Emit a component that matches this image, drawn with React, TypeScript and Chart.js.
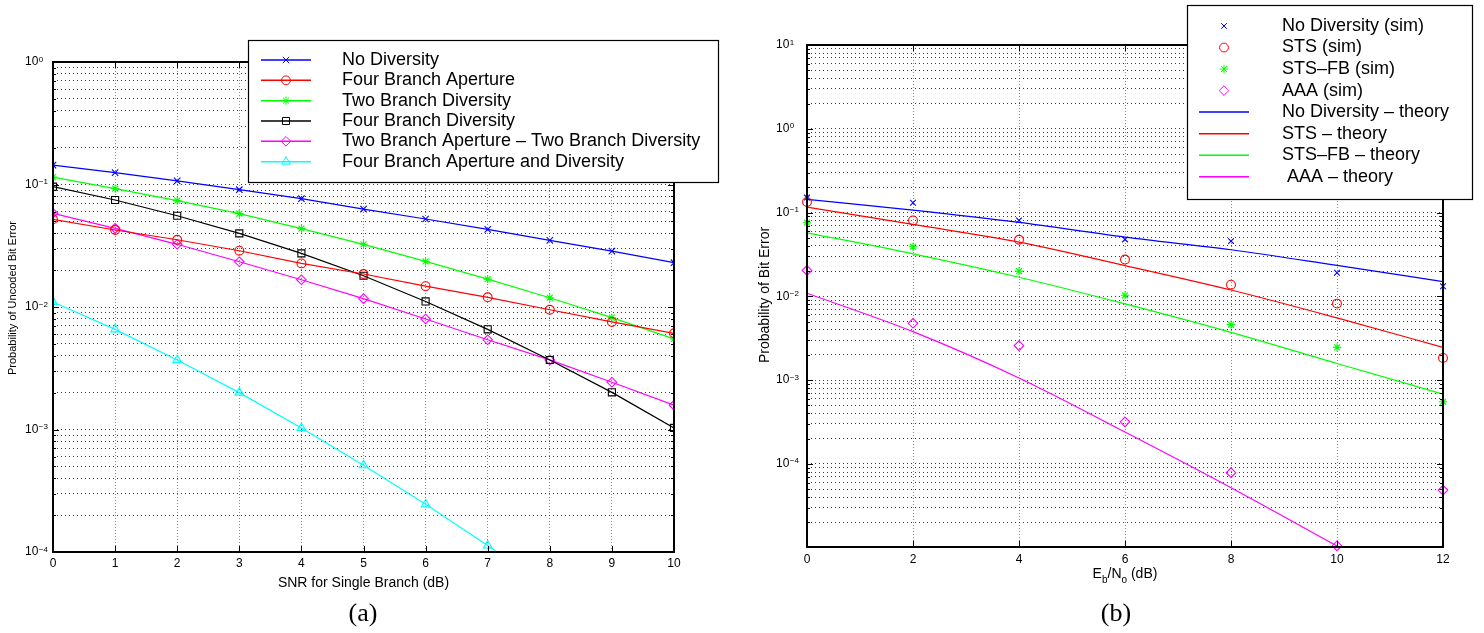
import React, { useEffect, useRef } from 'react';
import { Chart, registerables } from 'chart.js';
import { drawPoint } from 'chart.js/helpers';

Chart.register(...registerables);

// ---------- Figure (a) ----------
const snrA = [0, 1, 2, 3, 4, 5, 6, 7, 8, 9, 10];
const xTicksA = [0, 1, 2, 3, 4, 5, 6, 7, 8, 9, 10];
const yDecadesA = [-4, -3, -2, -1, 0];
const noDiversityA = [0.144, 0.125, 0.107, 0.0907, 0.0766, 0.063, 0.0523, 0.043, 0.035, 0.0286, 0.023];
const fourBranchApertureA = [0.052, 0.0425, 0.0354, 0.0288, 0.0227, 0.0186, 0.0148, 0.012, 0.0095, 0.00755, 0.0061];
const twoBranchDiversityA = [0.115, 0.0925, 0.0738, 0.0578, 0.0436, 0.0325, 0.0236, 0.0169, 0.0119, 0.00818, 0.00548];
const fourBranchDiversityA = [0.096, 0.0747, 0.0556, 0.0399, 0.0274, 0.018, 0.0111, 0.00657, 0.00369, 0.00201, 0.00103];
const twoApTwoDivA = [0.0582, 0.0439, 0.0325, 0.0234, 0.0167, 0.0117, 0.00798, 0.0054, 0.0037, 0.00243, 0.00158];
const fourApAndDivA = [0.011, 0.00657, 0.00369, 0.002, 0.00103, 0.00051, 0.000245, 0.000113, 0.00005];
const labelsA = [
  'No Diversity',
  'Four Branch Aperture',
  'Two Branch Diversity',
  'Four Branch Diversity',
  'Two Branch Aperture \u2013 Two Branch Diversity',
  'Four Branch Aperture and Diversity',
];

// ---------- Figure (b) ----------
const ebnoSimB = [0, 2, 4, 6, 8, 10, 12];
const ebnoTheoryB = [0, 2, 4, 6, 8, 10, 12];
const xTicksB = [0, 2, 4, 6, 8, 10, 12];
const yDecadesB = [-5, -4, -3, -2, -1, 0, 1];
const noDivSimB = [0.151, 0.131, 0.0807, 0.0478, 0.0456, 0.0191, 0.0132];
const stsSimB = [0.134, 0.0807, 0.0474, 0.0275, 0.0138, 0.0082, 0.00184];
const stsFbSimB = [0.0757, 0.0391, 0.02, 0.0103, 0.0046, 0.00246, 0.000552];
const aaaSimB = [0.0204, 0.00477, 0.00258, 0.000318, 0.0000787, 0.0000105, 0.0000487];
const noDivTheoryB = [0.144, 0.107, 0.0764, 0.0509, 0.036, 0.0234, 0.015];
const stsTheoryB = [0.116, 0.0722, 0.0444, 0.0233, 0.0119, 0.00553, 0.00246];
const stsFbTheoryB = [0.0574, 0.0322, 0.0169, 0.00813, 0.00372, 0.00158, 0.000682];
const aaaTheoryB = [0.0109, 0.00379, 0.00106, 0.00024, 0.000052, 0.0000105];
const labelsB = [
  'No Diversity (sim)',
  'STS (sim)',
  'STS\u2013FB (sim)',
  'AAA (sim)',
  'No Diversity \u2013 theory',
  'STS \u2013 theory',
  'STS\u2013FB \u2013 theory',
  ' AAA \u2013 theory',
];

const SANS = '"Liberation Sans", Arial, Helvetica, sans-serif';
const SERIF = '"Liberation Serif", "DejaVu Serif", serif';

function pts(xs: number[], ys: number[]) {
  return ys.map((y, i) => ({ x: xs[i], y }));
}

function logTicks(decades: number[], min: number, max: number) {
  const out: { value: number }[] = [];
  for (const k of decades) {
    for (let m = 1; m <= 9; m++) {
      const v = m * Math.pow(10, k);
      if (v >= min * 0.999999 && v <= max * 1.000001) out.push({ value: v });
    }
  }
  return out;
}

function isDecade(v: number) {
  const l = Math.log10(v);
  return Math.abs(l - Math.round(l)) < 1e-9;
}

function text(ctx: CanvasRenderingContext2D, s: string, x: number, y: number, font: string,
  align: CanvasTextAlign = 'center', baseline: CanvasTextBaseline = 'middle', rot = 0) {
  ctx.save();
  ctx.translate(x, y);
  if (rot) ctx.rotate(rot);
  ctx.font = font;
  ctx.fillStyle = '#000';
  ctx.textAlign = align;
  ctx.textBaseline = baseline;
  ctx.fillText(s, 0, 0);
  ctx.restore();
}

type Spec = {
  yLabelX: number;
  xLabelDy: number;
  xTitleParts: { t: string; size: number; dy: number }[];
  xTitleBaseline: number;
  yTitle: { t: string; x: number; y: number; size: number };
  caption: { t: string; x: number; y: number };
  legend: { x: number; y: number; w: number; h: number; row0: number; step: number; lx0: number; lx1: number; mx: number; tx: number; size: number };
};

function makePlugin(spec: Spec) {
  return {
    id: 'matlabAxes',
    afterDatasetsDraw(chart: any) {
      const { ctx, chartArea: ca, scales } = chart;
      const xs = scales.x;
      const ys = scales.y;
      ctx.save();
      // tick marks (inside, on all four sides)
      ctx.strokeStyle = '#000';
      ctx.lineWidth = 1;
      ctx.beginPath();
      for (const t of xs.ticks) {
        const px = Math.round(xs.getPixelForValue(t.value)) + 0.5;
        ctx.moveTo(px, ca.bottom); ctx.lineTo(px, ca.bottom - 6);
        ctx.moveTo(px, ca.top); ctx.lineTo(px, ca.top + 6);
      }
      for (const t of ys.ticks) {
        const py = Math.round(ys.getPixelForValue(t.value)) + 0.5;
        const len = isDecade(t.value) ? 6 : 3;
        ctx.moveTo(ca.left, py); ctx.lineTo(ca.left + len, py);
        ctx.moveTo(ca.right, py); ctx.lineTo(ca.right - len, py);
      }
      ctx.stroke();
      // box
      ctx.lineWidth = 2;
      ctx.strokeRect(ca.left, ca.top, ca.right - ca.left, ca.bottom - ca.top);
      // x tick labels
      for (const t of xs.ticks) {
        text(ctx, String(t.value), xs.getPixelForValue(t.value), ca.bottom + spec.xLabelDy, `12px ${SANS}`);
      }
      // y tick labels 10^k
      for (const t of ys.ticks) {
        if (!isDecade(t.value)) continue;
        const k = Math.round(Math.log10(t.value));
        const py = ys.getPixelForValue(t.value);
        ctx.font = `12px ${SANS}`;
        const w10 = ctx.measureText('10').width;
        text(ctx, '10', spec.yLabelX, py, `12px ${SANS}`, 'left', 'middle');
        const e = k < 0 ? '\u2212' + Math.abs(k) : String(k);
        text(ctx, e, spec.yLabelX + w10 + 0.5, py - 0.5, `8px ${SANS}`, 'left', 'alphabetic');
      }
      // x title (composite, supports subscripts)
      let total = 0;
      for (const p of spec.xTitleParts) {
        ctx.font = `${p.size}px ${SANS}`;
        total += ctx.measureText(p.t).width;
      }
      let cx = (ca.left + ca.right) / 2 - total / 2;
      for (const p of spec.xTitleParts) {
        const f = `${p.size}px ${SANS}`;
        text(ctx, p.t, cx, spec.xTitleBaseline + p.dy, f, 'left', 'alphabetic');
        ctx.font = f;
        cx += ctx.measureText(p.t).width;
      }
      // y title
      text(ctx, spec.yTitle.t, spec.yTitle.x, spec.yTitle.y, `${spec.yTitle.size}px ${SANS}`, 'center', 'middle', -Math.PI / 2);
      // caption
      text(ctx, spec.caption.t, spec.caption.x, spec.caption.y, `26px ${SERIF}`, 'center', 'middle');
      ctx.restore();
    },
    afterDraw(chart: any) {
      const { ctx } = chart;
      const L = spec.legend;
      ctx.save();
      ctx.fillStyle = '#fff';
      ctx.fillRect(L.x, L.y, L.w, L.h);
      ctx.strokeStyle = '#000';
      ctx.lineWidth = 1.2;
      ctx.strokeRect(L.x + 0.5, L.y + 0.5, L.w, L.h);
      chart.data.datasets.forEach((ds: any, i: number) => {
        const y = L.row0 + i * L.step;
        const color = ds.borderColor;
        if (ds.showLine !== false) {
          ctx.strokeStyle = color;
          ctx.lineWidth = 1.5;
          ctx.beginPath();
          ctx.moveTo(L.lx0, y);
          ctx.lineTo(L.lx1, y);
          ctx.stroke();
        }
        if (ds.pointRadius > 0) {
          ctx.strokeStyle = color;
          ctx.fillStyle = 'rgba(0,0,0,0)';
          ctx.lineWidth = 1;
          drawPoint(ctx, { pointStyle: ds.pointStyle, radius: ds.pointRadius, rotation: 0, borderWidth: 1 } as any, L.mx, y);
        }
        text(ctx, ds.label, L.tx, y, `${L.size}px ${SANS}`, 'left', 'middle');
      });
      ctx.restore();
    },
  };
}

function lineSet(label: string, data: any[], color: string, pointStyle: any, radius: number, extra: any = {}) {
  return {
    label,
    data,
    borderColor: color,
    backgroundColor: color,
    borderWidth: 1.2,
    pointStyle,
    pointRadius: radius,
    pointBorderColor: color,
    pointBackgroundColor: 'rgba(0,0,0,0)',
    pointBorderWidth: 1.1,
    tension: 0,
    ...extra,
  };
}

function baseScales(xMin: number, xMax: number, xTicks: number[], yMin: number, yMax: number, yDecades: number[], yAxisW: number, xAxisH: number) {
  return {
    x: {
      type: 'linear',
      min: xMin,
      max: xMax,
      afterBuildTicks: (s: any) => { s.ticks = xTicks.map((v) => ({ value: v })); },
      afterFit: (s: any) => { s.height = xAxisH; },
      ticks: { display: false },
      grid: { color: '#8a8a8a', lineWidth: 1, drawTicks: false },
      border: { display: false, dash: [1, 2] },
    },
    y: {
      type: 'logarithmic',
      min: yMin,
      max: yMax,
      afterBuildTicks: (s: any) => { s.ticks = logTicks(yDecades, yMin, yMax); },
      afterFit: (s: any) => { s.width = yAxisW; },
      ticks: { display: false },
      grid: { color: '#3a3a3a', lineWidth: 1, drawTicks: false },
      border: { display: false, dash: [1, 3] },
    },
  };
}

function configA(): any {
  const spec: Spec = {
    yLabelX: 25,
    xLabelDy: 12,
    xTitleParts: [{ t: 'SNR for Single Branch (dB)', size: 14, dy: 0 }],
    xTitleBaseline: 587,
    yTitle: { t: 'Probability of Uncoded Bit Error', x: 13, y: 298, size: 11 },
    caption: { t: '(a)', x: 363, y: 614 },
    legend: { x: 248, y: 40, w: 470, h: 142, row0: 60, step: 20.33, lx0: 261, lx1: 311, mx: 286, tx: 342, size: 18 },
  };
  return {
    type: 'line',
    data: {
      datasets: [
        lineSet(labelsA[0], pts(snrA, noDiversityA), '#0000ff', 'crossRot', 4.5),
        lineSet(labelsA[1], pts(snrA, fourBranchApertureA), '#ff0000', 'circle', 4.4),
        lineSet(labelsA[2], pts(snrA, twoBranchDiversityA), '#00ff00', 'star', 4.2),
        lineSet(labelsA[3], pts(snrA, fourBranchDiversityA), '#000000', 'rect', 5),
        lineSet(labelsA[4], pts(snrA, twoApTwoDivA), '#ff00ff', 'rectRot', 4.8),
        lineSet(labelsA[5], pts(snrA, fourApAndDivA), '#00ffff', 'triangle', 5),
      ],
    },
    options: {
      responsive: false,
      animation: false,
      events: [],
      layout: { padding: { left: 0, right: 68, top: 62, bottom: 0 } },
      plugins: { legend: { display: false }, tooltip: { enabled: false }, title: { display: false } },
      scales: baseScales(0, 10, xTicksA, 1e-4, 1, yDecadesA, 53, 81),
    },
    plugins: [makePlugin(spec)],
  };
}

function configB(): any {
  const spec: Spec = {
    yLabelX: 34,
    xLabelDy: 13,
    xTitleParts: [
      { t: 'E', size: 14, dy: 0 },
      { t: 'b', size: 10, dy: 5 },
      { t: '/N', size: 14, dy: 0 },
      { t: 'o', size: 10, dy: 5 },
      { t: ' (dB)', size: 14, dy: 0 },
    ],
    xTitleBaseline: 578,
    yTitle: { t: 'Probability of Bit Error', x: 23, y: 295, size: 14 },
    caption: { t: '(b)', x: 374, y: 614 },
    legend: { x: 445, y: 5, w: 285, h: 194, row0: 26, step: 21.53, lx0: 457, lx1: 507, mx: 482, tx: 540, size: 18 },
  };
  const sim = { showLine: false, clip: false };
  const theory = { cubicInterpolationMode: 'monotone' };
  return {
    type: 'line',
    data: {
      datasets: [
        lineSet(labelsB[0], pts(ebnoSimB, noDivSimB), '#0000ff', 'crossRot', 4, sim),
        lineSet(labelsB[1], pts(ebnoSimB, stsSimB), '#ff0000', 'circle', 4.4, sim),
        lineSet(labelsB[2], pts(ebnoSimB, stsFbSimB), '#00ff00', 'star', 4.2, sim),
        lineSet(labelsB[3], pts(ebnoSimB, aaaSimB), '#ff00ff', 'rectRot', 4.8, sim),
        lineSet(labelsB[4], pts(ebnoTheoryB, noDivTheoryB), '#0000ff', 'circle', 0, theory),
        lineSet(labelsB[5], pts(ebnoTheoryB, stsTheoryB), '#ff0000', 'circle', 0, theory),
        lineSet(labelsB[6], pts(ebnoTheoryB, stsFbTheoryB), '#00ff00', 'circle', 0, theory),
        lineSet(labelsB[7], pts(ebnoTheoryB, aaaTheoryB), '#ff00ff', 'circle', 0, theory),
      ],
    },
    options: {
      responsive: false,
      animation: false,
      events: [],
      layout: { padding: { left: 0, right: 41, top: 45, bottom: 0 } },
      plugins: { legend: { display: false }, tooltip: { enabled: false }, title: { display: false } },
      scales: baseScales(0, 12, xTicksB, 1.02e-5, 10, yDecadesB, 65, 86),
    },
    plugins: [makePlugin(spec)],
  };
}

export default function App() {
  const refA = useRef<HTMLCanvasElement>(null);
  const refB = useRef<HTMLCanvasElement>(null);
  useEffect(() => {
    const a = new Chart(refA.current as HTMLCanvasElement, configA());
    const b = new Chart(refB.current as HTMLCanvasElement, configB());
    return () => {
      a.destroy();
      b.destroy();
    };
  }, []);
  return (
    <div style={{ position: 'fixed', left: 0, top: 0, width: 1484, height: 633, background: '#fff' }}>
      <canvas ref={refA} width={742} height={633} style={{ position: 'absolute', left: 0, top: 0, width: 742, height: 633 }} />
      <canvas ref={refB} width={742} height={633} style={{ position: 'absolute', left: 742, top: 0, width: 742, height: 633 }} />
    </div>
  );
}
